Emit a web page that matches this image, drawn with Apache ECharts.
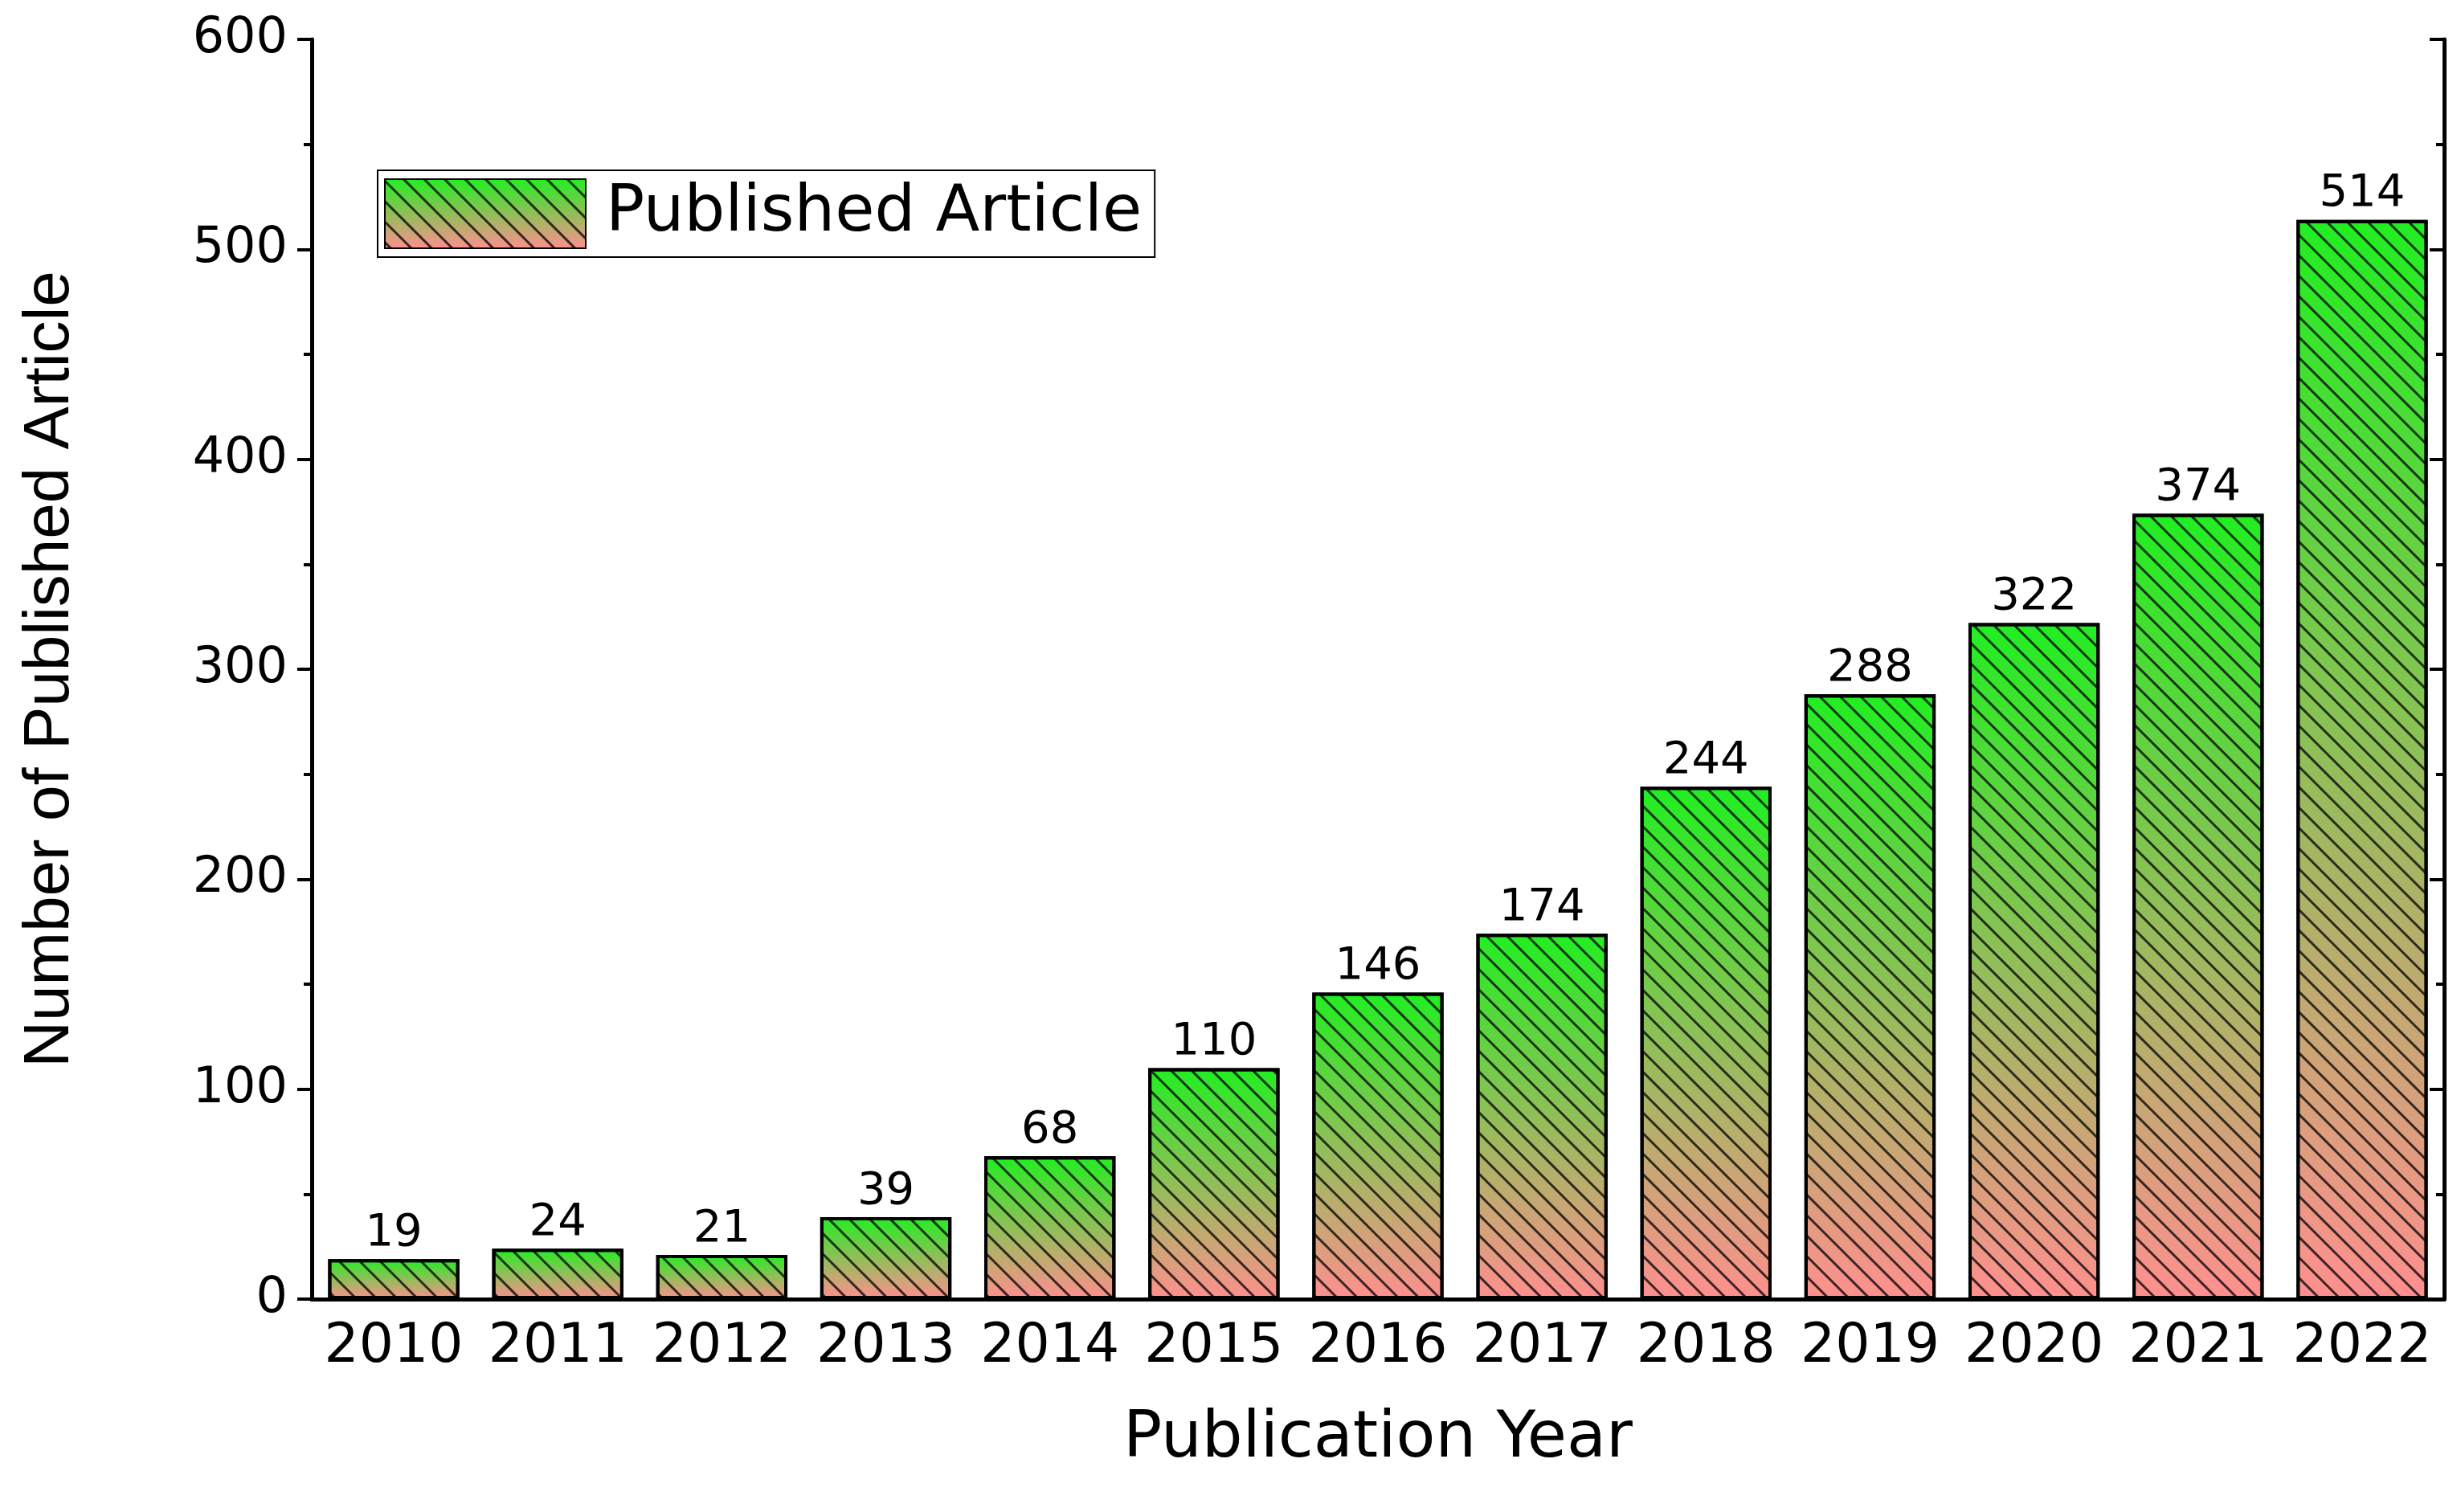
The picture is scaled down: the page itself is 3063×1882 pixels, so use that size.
<!DOCTYPE html>
<html>
<head>
<meta charset="utf-8">
<script src="https://cdn.jsdelivr.net/npm/echarts@6/dist/echarts.min.js"></script>
<style>html,body{margin:0;padding:0;background:#fff}#chart{width:3063px;height:1882px}</style>
</head>
<body>
<div id="chart"></div>
<script>
const years = ['2010','2011','2012','2013','2014','2015','2016','2017','2018','2019','2020','2021','2022']
const articles = [19, 24, 21, 39, 68, 110, 146, 174, 244, 288, 322, 374, 514]
const yTicks = [0, 100, 200, 300, 400, 500, 600]

const chart = echarts.init(document.getElementById('chart'))
const fill = new echarts.graphic.LinearGradient(0, 0, 0, 1, [
  { offset: 0, color: '#22ee22' },
  { offset: 1, color: '#ff8f8f' }
])
const hatch = {
  symbol: 'rect', dashArrayX: [1, 0], dashArrayY: [3, 15],
  rotation: Math.PI / 4, color: 'rgba(0,0,0,0.75)'
}
const font = 'DejaVu Sans'
chart.setOption({
  backgroundColor: '#fff',
  animation: false,
  grid: { left: 388, right: 21, top: 49, bottom: 265 },
  legend: {
    left: 470, top: 212, padding: [10, 16, 10, 8],
    borderColor: '#000', borderWidth: 2,
    icon: 'rect',
    itemWidth: 250, itemHeight: 86, itemGap: 10,
    textStyle: { fontSize: 80, fontFamily: font, color: '#000', padding: [0, 0, 0, 20] },
    data: ['Published Article']
  },
  xAxis: [{
    type: 'category', data: years,
    axisLine: { lineStyle: { color: '#000', width: 5 } },
    axisTick: { alignWithLabel: true, length: 14, lineStyle: { width: 4, color: '#000' } },
    axisLabel: { fontSize: 68, fontFamily: font, color: '#000', margin: 26, interval: 0 },
    name: 'Publication Year', nameLocation: 'middle', nameGap: 135,
    nameTextStyle: { fontSize: 80, fontFamily: font, color: '#000' }
  }, {
    type: 'category', data: years, position: 'top',
    axisLine: { lineStyle: { color: '#000', width: 5 } },
    axisTick: { inside: true, alignWithLabel: true, length: 14, lineStyle: { width: 4, color: '#000' } },
    axisLabel: { show: false }
  }],
  yAxis: [{
    type: 'value', min: 0, max: 600, interval: 100,
    axisLine: { show: true, lineStyle: { color: '#000', width: 5 } },
    axisTick: { show: true, length: 18, lineStyle: { width: 4, color: '#000' } },
    minorTick: { show: true, splitNumber: 2, length: 10, lineStyle: { width: 4, color: '#000' } },
    splitLine: { show: false },
    axisLabel: { fontSize: 62, fontFamily: font, color: '#000', margin: 30,
      formatter: v => yTicks.includes(v) ? String(v) : '' },
    name: 'Number of Published Article', nameLocation: 'middle', nameGap: 285,
    nameTextStyle: { fontSize: 80, fontFamily: 'Liberation Sans', color: '#000' }
  }, {
    type: 'value', min: 0, max: 600, interval: 100, position: 'right',
    axisLine: { show: true, lineStyle: { color: '#000', width: 5 } },
    axisTick: { show: true, inside: true, length: 18, lineStyle: { width: 4, color: '#000' } },
    minorTick: { show: true, splitNumber: 2, length: 10, lineStyle: { width: 4, color: '#000' } },
    splitLine: { show: false },
    axisLabel: { show: false }
  }],
  series: [{
    name: 'Published Article', type: 'bar', data: articles,
    barWidth: '80%',
    itemStyle: { color: fill, borderColor: '#000', borderWidth: 4, decal: hatch },
    label: { show: true, position: 'top', distance: 4, fontSize: 56, fontFamily: font, color: '#000' }
  }]
})
</script>
</body>
</html>
